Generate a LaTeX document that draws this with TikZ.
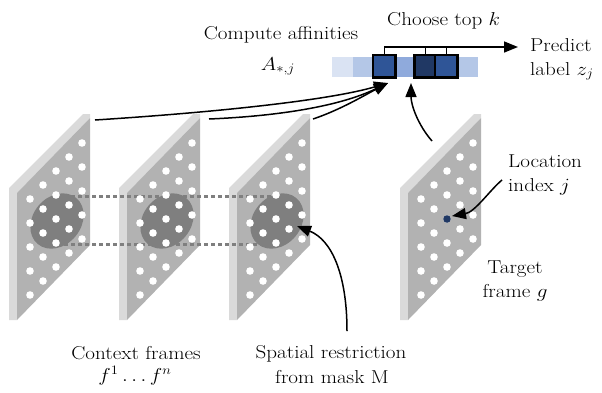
\documentclass[tikz,border=0pt]{standalone}
\usepackage{graphicx}
\usetikzlibrary{arrows.meta}
\definecolor{faceg}{HTML}{B2B2B2}
\definecolor{sideg}{HTML}{DADADA}
\definecolor{maskg}{HTML}{7F7F7F}
\definecolor{bA}{HTML}{DAE3F3}
\definecolor{bB}{HTML}{B4C7E7}
\definecolor{bC}{HTML}{2F5597}
\definecolor{bD}{HTML}{8FAADC}
\definecolor{bE}{HTML}{203864}
\newcommand{\mylbl}[1]{\scalebox{1.22}[1.08]{\LARGE #1}}
\begin{document}
\begin{tikzpicture}[x=1pt,y=-1pt,
  lbl/.style={inner sep=0pt},
  arr/.style={line width=1.5pt, -{Triangle[length=14pt,width=11pt]}},
  plainline/.style={line width=1.5pt},
  maskline/.style={draw=maskg, line width=3pt, dash pattern=on 4pt off 3pt},
  selbox/.style={draw=black, line width=2.5pt, minimum size=22.5pt, inner sep=0pt}]
\useasboundingbox (0,0) rectangle (602,392);
% frames
\foreach \X in {17,127,237,408}{
  \fill[sideg] (\X-8,320) -- (\X-8,188) -- (\X+66,114) -- (\X+73,114) -- (\X+73,118) -- (\X,193) -- (\X,320) -- cycle;
  \fill[faceg] (\X,320) -- (\X,193) -- (\X+73,118) -- (\X+73,245) -- cycle;
}
% dotted connection lines
\draw[maskline] (57,196) -- (276,196);
\draw[maskline] (57,244) -- (276,244);
% masks
\foreach \X in {17,127,237}{
  \fill[maskg, rotate around={50:(\X+40,221)}] (\X+40,221) ellipse [x radius=30pt, y radius=24pt];
}
% dots
\foreach \X in {17,127,237,408}{
  \foreach \i in {0,...,4}{
    \foreach \j in {0,...,4}{
      \fill[white] (\X+13+13*\i,199-14*\i+24*\j) circle[radius=3.8pt];
    }
  }
}
\fill[bE] (447,219) circle[radius=3.8pt];
\coordinate (jdot) at (452,216);
% affinity bar
\foreach \c [count=\k from 0] in {bA,bB,bC,bD,bE,bC,bB}{
  \fill[\c] (332+20.8*\k,57) rectangle (352.8+20.8*\k,77);
}
\node[selbox, fill=bC] (sa) at (384.4,66) {};
\node[selbox, fill=bE] (sb) at (425.6,66) {};
\node[selbox, fill=bC] (sc) at (446.4,66) {};
\coordinate (pt) at (518,47);
\draw[plainline] (sb.north) -- (sb.north |- pt);
\draw[plainline] (sc.north) -- (sc.north |- pt);
\draw[arr] (sa.north) -- (sa.north |- pt) -- (pt);
% labels
\node[lbl, anchor=base] (ca) at (281,39) {\mylbl{Compute affinities}};
\node[lbl, anchor=base] (aa) at (278,70) {\mylbl{$A_{*,j}$}};
\node[lbl, anchor=base west] (ct) at (387,25) {\mylbl{Choose top $k$}};
\node[lbl, anchor=base west] (p1) at (530,51) {\mylbl{Predict}};
\node[lbl, anchor=base west] (p2) at (530,75) {\mylbl{label $z_j$}};
\node[lbl, anchor=base west] (l1) at (508,167) {\mylbl{Location}};
\node[lbl, anchor=base west] (l2) at (508,191) {\mylbl{index $j$}};
\node[lbl, anchor=base] (t1) at (515,273) {\mylbl{Target}};
\node[lbl, anchor=base] (t2) at (515,297) {\mylbl{frame $g$}};
\node[lbl, anchor=base] (c1) at (136,359) {\mylbl{Context frames}};
\node[lbl, anchor=base] (c2) at (135,381) {\mylbl{$f^1\ldots f^n$}};
\node[lbl, anchor=base] (r1) at (331,358) {\mylbl{Spatial restriction}};
\node[lbl, anchor=base] (r2) at (332,383) {\mylbl{from mask M}};
% arrows
\coordinate (aff) at (388,83);
\coordinate (aff2) at (411,83);
\coordinate (f1t) at (95,120);
\coordinate (f2t) at (209,119);
\coordinate (f3t) at (313,119);
\coordinate (tgt) at (432,141);
\coordinate (rs) at (347,331);
\coordinate (maskp) at (297,226);
\coordinate (ls) at (502,180);
\draw[arr] (f1t) .. controls (220,112) and (330,100) .. (aff);
\draw[arr] (f2t) .. controls (280,116) and (340,106) .. (aff);
\draw[arr] (f3t) .. controls (340,110) and (365,95) .. (aff);
\draw[arr] (tgt) .. controls (418,125) and (411,105) .. (aff2);
\draw[arr] (rs) .. controls (347,275) and (332,240) .. (maskp);
\draw[arr] (ls) .. controls (490,190) and (475,212) .. (jdot);
\end{tikzpicture}
\end{document}
